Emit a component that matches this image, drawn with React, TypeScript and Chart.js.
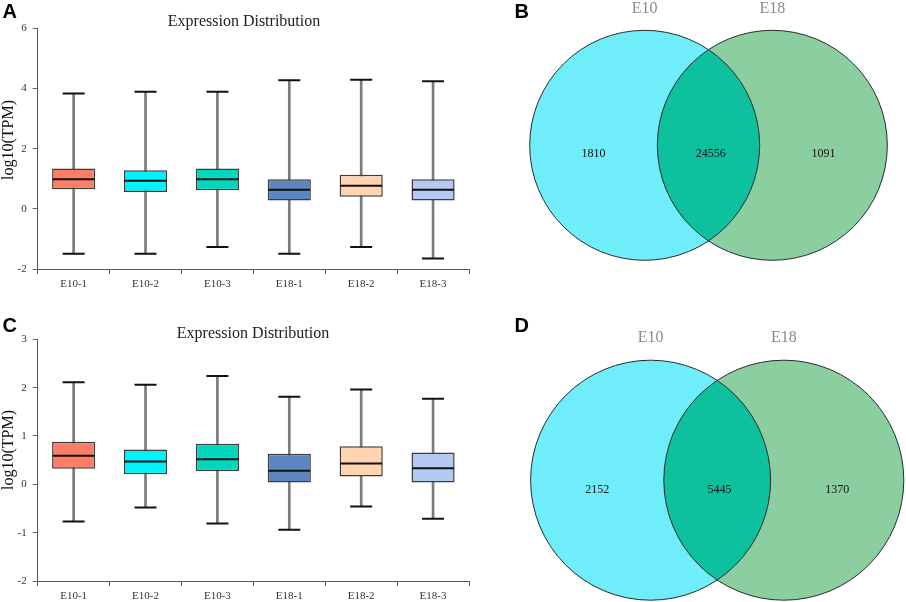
import React, { useEffect, useRef } from 'react';
import { Chart, registerables } from 'chart.js';

Chart.register(...registerables);

const SERIF = '"Liberation Serif", "Times New Roman", serif';
const SANS = '"Liberation Sans", Arial, sans-serif';

// ---------- Data ----------
const samples = ['E10-1', 'E10-2', 'E10-3', 'E18-1', 'E18-2', 'E18-3'];
const boxColors = ['#FA7F66', '#00F3FA', '#00D8BE', '#5B86C2', '#FFD4B0', '#B3C9F2'];

// Panel A
const maxA = [3.83, 3.89, 3.89, 4.27, 4.29, 4.24];
const q3A = [1.34, 1.28, 1.34, 0.98, 1.13, 0.98];
const medA = [0.98, 0.93, 0.98, 0.63, 0.77, 0.63];
const q1A = [0.65, 0.56, 0.62, 0.28, 0.40, 0.28];
const minA = [-1.49, -1.49, -1.27, -1.49, -1.27, -1.65];

// Panel C
const maxC = [2.11, 2.06, 2.24, 1.81, 1.96, 1.77];
const q3C = [0.88, 0.72, 0.84, 0.63, 0.79, 0.66];
const medC = [0.59, 0.47, 0.52, 0.28, 0.43, 0.33];
const q1C = [0.32, 0.21, 0.27, 0.04, 0.16, 0.04];
const minC = [-0.77, -0.48, -0.81, -0.94, -0.46, -0.71];

// Venn panels
const setNames = ['E10', 'E18'];
const vennB = [1810, 24556, 1091];
const vennD = [2152, 5445, 1370];
const vennColors = ['#6FEDFB', '#8BCFA0'];
const lensColor = '#0DC09E';

const TITLE = 'Expression Distribution';
const Y_TITLE = 'log10(TPM)';

// ---------- Box plot panel ----------
type BoxProps = {
  letter: string;
  top: number;
  height: number;
  areaTop: number;
  areaBottom: number;
  yMin: number;
  yMax: number;
  yStep: number;
  mins: number[];
  q1s: number[];
  meds: number[];
  q3s: number[];
  maxs: number[];
  titleX: number;
  titleBase: number;
  yTitleY: number;
  letterBase: number;
};

const BOX_W = 490;
const AREA_LEFT = 37.7;
const AREA_RIGHT = 469;
const X_AXIS_H = 18;

function BoxPanel(p: BoxProps) {
  const ref = useRef<HTMLCanvasElement | null>(null);
  useEffect(() => {
    if (!ref.current) return;
    const decor = {
      id: 'decor',
      afterDraw(chart: any) {
        const ctx = chart.ctx;
        ctx.save();
        ctx.fillStyle = '#222';
        ctx.font = `16px ${SERIF}`;
        ctx.textAlign = 'center';
        ctx.textBaseline = 'alphabetic';
        ctx.fillText(TITLE, p.titleX, p.titleBase);
        ctx.save();
        ctx.translate(8.8, p.yTitleY);
        ctx.rotate(-Math.PI / 2);
        ctx.textBaseline = 'middle';
        ctx.fillStyle = '#111';
        ctx.fillText(Y_TITLE, 0, 0);
        ctx.restore();
        ctx.fillStyle = '#000';
        ctx.font = `bold 20px ${SANS}`;
        ctx.textAlign = 'left';
        ctx.fillText(p.letter, 2.5, p.letterBase);
        ctx.restore();
      },
    };
    const capStyle = {
      type: 'line' as const,
      showLine: false,
      pointStyle: 'line' as const,
      pointBorderColor: '#111',
      pointBorderWidth: 2,
      pointBackgroundColor: '#111',
    };
    const chart = new Chart(ref.current, {
      type: 'bar',
      data: {
        labels: samples,
        datasets: [
          {
            type: 'bar',
            data: p.mins.map((m, i) => [m, p.maxs[i]]) as any,
            backgroundColor: '#7a7a7a',
            borderWidth: 0,
            barThickness: 2,
            grouped: false,
            order: 4,
          } as any,
          {
            type: 'bar',
            data: p.q1s.map((q, i) => [q, p.q3s[i]]) as any,
            backgroundColor: boxColors,
            borderColor: '#3c3c3c',
            borderWidth: 1.5,
            borderSkipped: false,
            barPercentage: 0.6,
            categoryPercentage: 1,
            grouped: false,
            order: 3,
          } as any,
          { ...capStyle, data: p.maxs, pointRadius: 11, order: 2 } as any,
          { ...capStyle, data: p.mins, pointRadius: 11, order: 1 } as any,
          { ...capStyle, data: p.meds, pointRadius: 21, order: 0 } as any,
        ],
      },
      options: {
        animation: false,
        responsive: false,
        events: [],
        layout: {
          autoPadding: false,
          padding: {
            left: 0,
            top: p.areaTop,
            right: BOX_W - AREA_RIGHT,
            bottom: p.height - p.areaBottom - X_AXIS_H,
          },
        },
        plugins: {
          legend: { display: false },
          tooltip: { enabled: false },
          title: { display: false },
        },
        scales: {
          x: {
            offset: true,
            afterFit: (s: any) => {
              s.height = X_AXIS_H;
            },
            grid: {
              display: true,
              offset: true,
              drawOnChartArea: false,
              drawTicks: true,
              tickLength: 5,
              color: '#666',
            },
            border: { display: true, color: '#555', width: 1 },
            ticks: {
              color: '#333',
              padding: 4,
              font: { family: SERIF, size: 11 },
              maxRotation: 0,
            },
          },
          y: {
            min: p.yMin,
            max: p.yMax,
            afterFit: (s: any) => {
              s.width = AREA_LEFT;
            },
            grid: {
              display: true,
              drawOnChartArea: false,
              drawTicks: true,
              tickLength: 5,
              color: '#666',
            },
            border: { display: true, color: '#555', width: 1 },
            ticks: {
              stepSize: p.yStep,
              color: '#333',
              padding: 6,
              font: { family: SERIF, size: 11 },
            },
          },
        },
      } as any,
      plugins: [decor],
    });
    return () => chart.destroy();
  }, []);
  return (
    <canvas
      ref={ref}
      width={BOX_W}
      height={p.height}
      style={{ position: 'absolute', left: 0, top: p.top, width: BOX_W, height: p.height }}
    />
  );
}

// ---------- Venn panel ----------
type VennProps = {
  letter: string;
  top: number;
  height: number;
  counts: number[];
  midX: number; // pixel of overlap centre in canvas
  midY: number;
  radiusPx: number;
  letterBase: number;
};

const VENN_LEFT = 450;
const VENN_W = 456;
const DIST = 1.11; // centre distance in radius units

function VennPanel(p: VennProps) {
  const ref = useRef<HTMLCanvasElement | null>(null);
  useEffect(() => {
    if (!ref.current) return;
    const u = p.radiusPx;
    const xMin = -p.midX / u;
    const xMax = (VENN_W - p.midX) / u;
    const yMax = p.midY / u;
    const yMin = -(p.height - p.midY) / u;
    const unit = (chart: any) => chart.scales.x.getPixelForValue(1) - chart.scales.x.getPixelForValue(0);
    const vennPlugin = {
      id: 'venn',
      afterDatasetsDraw(chart: any) {
        const ctx = chart.ctx;
        const xs = chart.scales.x;
        const ys = chart.scales.y;
        const r = unit(chart);
        const c1 = xs.getPixelForValue(-DIST / 2);
        const c2 = xs.getPixelForValue(DIST / 2);
        const cy = ys.getPixelForValue(0);
        ctx.save();
        ctx.beginPath();
        ctx.arc(c1, cy, r, 0, Math.PI * 2);
        ctx.clip();
        ctx.beginPath();
        ctx.arc(c2, cy, r, 0, Math.PI * 2);
        ctx.fillStyle = lensColor;
        ctx.fill();
        ctx.restore();
        ctx.save();
        ctx.strokeStyle = '#2a2a2a';
        ctx.lineWidth = 1;
        [c1, c2].forEach((c) => {
          ctx.beginPath();
          ctx.arc(c, cy, r, 0, Math.PI * 2);
          ctx.stroke();
        });
        // set names
        ctx.font = `16px ${SERIF}`;
        ctx.fillStyle = '#8a8a8a';
        ctx.textAlign = 'center';
        ctx.textBaseline = 'alphabetic';
        ctx.fillText(setNames[0], c1, ys.getPixelForValue(1.15));
        ctx.fillText(setNames[1], c2, ys.getPixelForValue(1.15));
        // counts
        ctx.font = `12px ${SERIF}`;
        ctx.fillStyle = '#111';
        const ny = ys.getPixelForValue(-0.103);
        const posX = [-1.0, 0.02, 1.0];
        p.counts.forEach((n, i) => {
          ctx.fillText(String(n), xs.getPixelForValue(posX[i]), ny);
        });
        // panel letter
        ctx.fillStyle = '#000';
        ctx.font = `bold 20px ${SANS}`;
        ctx.textAlign = 'left';
        ctx.fillText(p.letter, 64.5, p.letterBase);
        ctx.restore();
      },
    };
    const chart = new Chart(ref.current, {
      type: 'bubble',
      data: {
        datasets: [
          {
            data: [
              { x: -DIST / 2, y: 0 },
              { x: DIST / 2, y: 0 },
            ],
            backgroundColor: vennColors,
            borderWidth: 0,
            radius: u,
            hoverRadius: 0,
            clip: false,
          } as any,
        ],
      },
      options: {
        animation: false,
        responsive: false,
        events: [],
        layout: { autoPadding: false, padding: 0 },
        plugins: { legend: { display: false }, tooltip: { enabled: false } },
        scales: {
          x: { type: 'linear', display: false, min: xMin, max: xMax },
          y: { type: 'linear', display: false, min: yMin, max: yMax },
        },
      } as any,
      plugins: [vennPlugin],
    });
    return () => chart.destroy();
  }, []);
  return (
    <canvas
      ref={ref}
      width={VENN_W}
      height={p.height}
      style={{ position: 'absolute', left: VENN_LEFT, top: p.top, width: VENN_W, height: p.height }}
    />
  );
}

export default function App() {
  return (
    <div
      style={{
        position: 'absolute',
        left: 0,
        top: 0,
        width: 906,
        height: 602,
        background: '#fff',
        overflow: 'hidden',
      }}
    >
      <BoxPanel
        letter="A"
        top={0}
        height={300}
        areaTop={28.3}
        areaBottom={269}
        yMin={-2}
        yMax={6}
        yStep={2}
        mins={minA}
        q1s={q1A}
        meds={medA}
        q3s={q3A}
        maxs={maxA}
        titleX={244}
        titleBase={26}
        yTitleY={140}
        letterBase={18.3}
      />
      <BoxPanel
        letter="C"
        top={300}
        height={302}
        areaTop={39.3}
        areaBottom={281}
        yMin={-2}
        yMax={3}
        yStep={1}
        mins={minC}
        q1s={q1C}
        meds={medC}
        q3s={q3C}
        maxs={maxC}
        titleX={253}
        titleBase={38}
        yTitleY={150}
        letterBase={31.7}
      />
      <VennPanel letter="B" top={0} height={300} counts={vennB} midX={258.5} midY={145.3} radiusPx={115} letterBase={18.3} />
      <VennPanel letter="D" top={300} height={302} counts={vennD} midX={267.2} midY={180.2} radiusPx={120} letterBase={31.7} />
    </div>
  );
}
